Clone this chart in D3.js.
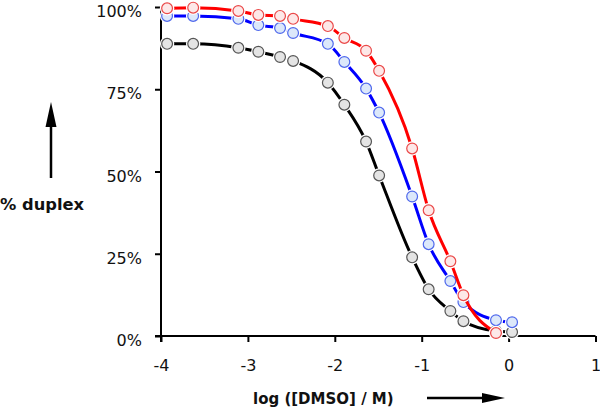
<!DOCTYPE html>
<html><head><meta charset="utf-8">
<script src="https://cdn.jsdelivr.net/npm/d3@7"></script>
<style>body{margin:0;background:#fff}svg{display:block}</style>
</head><body>
<svg id="c" width="600" height="408"></svg>
<script>
const xTicks = [-4, -3, -2, -1, 0, 1];
const yTicks = [0, 25, 50, 75, 100];
const xBlack = [-3.93, -3.63, -3.11, -2.88, -2.63, -2.48, -2.08, -1.89, -1.64, -1.49, -1.11, -0.92, -0.67, -0.52, -0.145, 0.04];
const yBlack = [88.8, 88.8, 87.6, 86.4, 84.8, 83.6, 77.0, 70.3, 59.1, 48.8, 23.9, 14.2, 7.6, 4.5, 1.5, 1.2];
const xBlue = [-3.93, -3.63, -3.11, -2.88, -2.63, -2.48, -2.08, -1.89, -1.64, -1.49, -1.11, -0.92, -0.67, -0.52, -0.145, 0.04];
const yBlue = [97.3, 97.3, 96.4, 94.5, 93.6, 92.1, 88.8, 83.3, 75.2, 67.9, 42.4, 27.9, 16.7, 10.3, 4.8, 4.2];
const xRed = [-3.93, -3.63, -3.11, -2.88, -2.63, -2.48, -2.08, -1.89, -1.64, -1.49, -1.11, -0.92, -0.67, -0.52, -0.145];
const yRed = [99.6, 99.8, 98.8, 97.6, 97.3, 96.4, 94.2, 90.6, 86.7, 80.6, 57.0, 38.2, 22.7, 12.4, 0.9];

const svg = d3.select("#c");
const x = d3.scaleLinear().domain([-4, 1]).range([161, 595.5]);
const y = d3.scaleLinear().domain([0, 100]).range([336, 7]);
const font = "'DejaVu Sans', Verdana, sans-serif";

// axes
const gx = svg.append("g").attr("transform", "translate(0,336)")
  .call(d3.axisBottom(x).tickValues(xTicks).tickSize(6).tickSizeOuter(0).tickPadding(18).tickFormat(d => d));
gx.select(".domain").attr("d", "M155,0H595.5").attr("stroke-width", 2);
gx.selectAll(".tick line").attr("stroke-width", 2);
gx.selectAll(".tick text").attr("font-family", font).attr("font-size", 16).attr("fill", "#111").attr("dy", "0.7em");

const gy = svg.append("g").attr("transform", "translate(161,0)")
  .call(d3.axisLeft(y).tickValues(yTicks).tickSize(6).tickSizeOuter(0).tickPadding(13).tickFormat(d => d + "%"));
gy.select(".domain").attr("d", "M0,7V342").attr("stroke-width", 2);
gy.selectAll(".tick line").attr("stroke-width", 2);
gy.selectAll(".tick text").attr("font-family", font).attr("font-size", 16).attr("fill", "#111").attr("dy", "0.6em");

// axis titles
svg.append("text").attr("x", 0).attr("y", 210).attr("font-family", font).attr("font-weight", "bold")
  .attr("font-size", 16.3).attr("fill", "#111").text("% duplex");
svg.append("text").attr("x", 253).attr("y", 404).attr("font-family", font).attr("font-weight", "bold")
  .attr("font-size", 15).attr("fill", "#111").text("log ([DMSO] / M)");

// arrows
svg.append("line").attr("x1", 51).attr("y1", 178).attr("x2", 51).attr("y2", 120).attr("stroke", "#000").attr("stroke-width", 2.5);
svg.append("path").attr("d", "M51,102L45.5,127L56.5,127Z").attr("fill", "#000");
svg.append("line").attr("x1", 427).attr("y1", 398).attr("x2", 487).attr("y2", 398).attr("stroke", "#000").attr("stroke-width", 2.5);
svg.append("path").attr("d", "M505,398L482,393L482,403Z").attr("fill", "#000");

const series = [
  {xs: xBlack, ys: yBlack, line: "#000000", fill: "#e4e4e4", stroke: "#555555"},
  {xs: xBlue, ys: yBlue, line: "#0000ff", fill: "#dce8fa", stroke: "#4f68ec"},
  {xs: xRed, ys: yRed, line: "#ff0000", fill: "#fde8e8", stroke: "#ea4848"}
];
const line = d3.line().x(d => x(d[0])).y(d => y(d[1])).curve(d3.curveMonotoneX);
series.forEach(s => {
  const pts = s.xs.map((v, i) => [v, s.ys[i]]);
  const g = svg.append("g");
  g.append("path").datum(pts).attr("d", line).attr("fill", "none").attr("stroke", s.line).attr("stroke-width", 3);
  g.selectAll(".halo").data(pts).join("circle").attr("cx", d => x(d[0])).attr("cy", d => y(d[1]))
    .attr("r", 7.2).attr("fill", "#fff");
  g.selectAll(".m").data(pts).join("circle").attr("cx", d => x(d[0])).attr("cy", d => y(d[1]))
    .attr("r", 5.4).attr("fill", s.fill).attr("stroke", s.stroke).attr("stroke-width", 1.2);
});
</script>
</body></html>
